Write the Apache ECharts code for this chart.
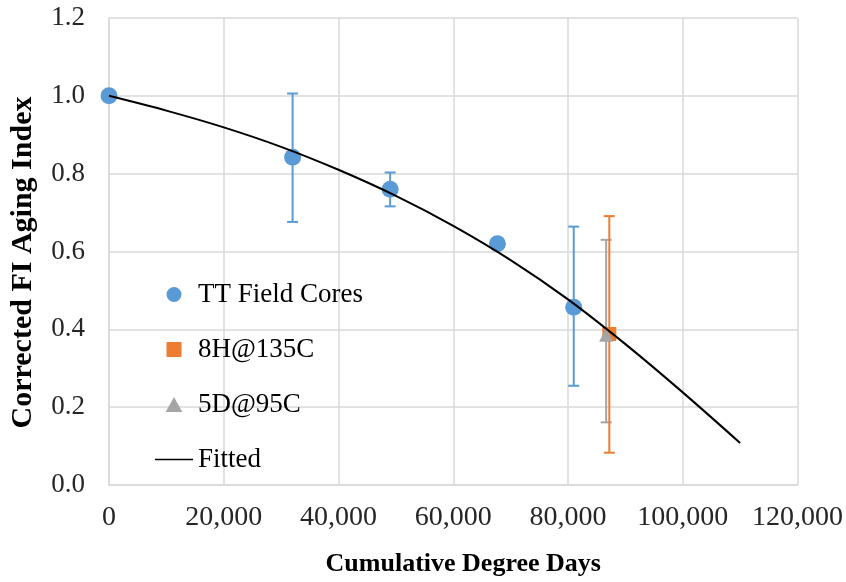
<!DOCTYPE html>
<html>
<head>
<meta charset="utf-8">
<script src="https://cdn.jsdelivr.net/npm/echarts@6/dist/echarts.min.js"></script>
<style>html,body{margin:0;padding:0;background:#fff;}#c{width:846px;height:582px;}</style>
</head>
<body>
<div id="c"></div>
<script>
// ---- data ----
var fieldX = [0, 32000, 49000, 67700, 81000];
var fieldY = [1.0, 0.842, 0.760, 0.620, 0.457];
var fieldErrLow = [null, 0.676, 0.716, null, 0.255];
var fieldErrHigh = [null, 1.006, 0.803, null, 0.664];

var h8X = [87200];
var h8Y = [0.388];
var h8ErrLow = [0.083];
var h8ErrHigh = [0.691];

var d5X = [86650];
var d5Y = [0.386];
var d5ErrLow = [0.161];
var d5ErrHigh = [0.630];

var fitX = [0, 10000, 20000, 30000, 40000, 50000, 60000, 70000, 80000, 90000, 100000, 110000];
var fitY = [1.0, 0.962, 0.919, 0.869, 0.810, 0.743, 0.666, 0.578, 0.477, 0.362, 0.238, 0.108];

var xTicks = [0, 20000, 40000, 60000, 80000, 100000, 120000];
var yTicks = [0.0, 0.2, 0.4, 0.6, 0.8, 1.0, 1.2];

var seriesNames = ['TT Field Cores', '8H@135C', '5D@95C', 'Fitted'];
var xTitle = 'Cumulative Degree Days';
var yTitle = 'Corrected FI Aging Index';

// ---- helpers ----
function pairs(xs, ys) { return xs.map(function (x, i) { return [x, ys[i]]; }); }
function errData(xs, lo, hi) {
  var out = [];
  xs.forEach(function (x, i) { if (lo[i] != null && hi[i] != null) out.push([x, lo[i], hi[i]]); });
  return out;
}
function errSeries(data, color) {
  return {
    type: 'custom',
    name: 'err',
    data: data,
    encode: { x: 0, y: [1, 2] },
    silent: true,
    renderItem: function (params, api) {
      var x = api.value(0);
      var lo = api.coord([x, api.value(1)]);
      var hi = api.coord([x, api.value(2)]);
      var hw = 5.5;
      var st = { stroke: color, lineWidth: 2 };
      return {
        type: 'group',
        children: [
          { type: 'line', shape: { x1: lo[0], y1: lo[1], x2: hi[0], y2: hi[1] }, style: st },
          { type: 'line', shape: { x1: lo[0] - hw, y1: lo[1], x2: lo[0] + hw, y2: lo[1] }, style: st },
          { type: 'line', shape: { x1: hi[0] - hw, y1: hi[1], x2: hi[0] + hw, y2: hi[1] }, style: st }
        ]
      };
    },
    z: 2
  };
}

var FONT = '"Liberation Serif", "Times New Roman", serif';
var BLUE = '#5B9BD5', ORANGE = '#ED7D31', GRAY = '#A5A5A5';

var chart = echarts.init(document.getElementById('c'), null, { renderer: 'canvas' });
chart.setOption({
  animation: false,
  backgroundColor: '#ffffff',
  grid: { left: 109, right: 47, top: 18, bottom: 88, containLabel: false },
  xAxis: {
    type: 'value', min: xTicks[0], max: xTicks[xTicks.length - 1], interval: 20000,
    name: xTitle, nameLocation: 'middle', nameGap: 66,
    nameTextStyle: { fontFamily: FONT, fontWeight: 'bold', fontSize: 26, color: '#000', padding: [0, 0, 0, 20] },
    axisLine: { show: true, lineStyle: { color: '#D9D9D9', width: 1.5 } },
    axisTick: { show: false },
    splitLine: { show: true, lineStyle: { color: '#D9D9D9', width: 1.5 } },
    axisLabel: {
      fontFamily: FONT, fontSize: 28, color: '#262626', margin: 19,
      formatter: function (v) { return v.toLocaleString('en-US'); }
    }
  },
  yAxis: {
    type: 'value', min: yTicks[0], max: yTicks[yTicks.length - 1], interval: 0.2,
    name: yTitle, nameLocation: 'middle', nameGap: 71, nameRotate: 90,
    nameTextStyle: { fontFamily: FONT, fontWeight: 'bold', fontSize: 30, color: '#000', padding: [0, 22, 0, 0] },
    axisLine: { show: true, lineStyle: { color: '#D9D9D9', width: 1.5 } },
    axisTick: { show: false },
    splitLine: { show: true, lineStyle: { color: '#D9D9D9', width: 1.5 } },
    axisLabel: {
      fontFamily: FONT, fontSize: 27, color: '#262626', margin: 24,
      formatter: function (v) { return v.toFixed(1); }
    }
  },
  legend: {
    orient: 'vertical', left: 150, top: 276,
    itemWidth: 38, itemHeight: 15, itemGap: 28,
    symbolKeepAspect: true,
    textStyle: { fontFamily: FONT, fontSize: 27, color: '#000', lineHeight: 27 },
    data: [
      { name: seriesNames[0], icon: 'path://M8,0A8,8 0 1,1 7.99,0Z' },
      { name: seriesNames[1], icon: 'path://M0,0L10,0L10,10L0,10Z' },
      { name: seriesNames[2], icon: 'path://M5,0L10,9L0,9Z' },
      { name: seriesNames[3], icon: 'path://M0,0L42,0L42,1.6L0,1.6Z' }
    ]
  },
  series: [
    errSeries(errData(fieldX, fieldErrLow, fieldErrHigh), BLUE),
    {
      type: 'scatter', name: seriesNames[0], data: pairs(fieldX, fieldY),
      symbol: 'circle', symbolSize: 17, itemStyle: { color: BLUE, opacity: 1 }, z: 3
    },
    errSeries(errData(d5X, d5ErrLow, d5ErrHigh), GRAY),
    errSeries(errData(h8X, h8ErrLow, h8ErrHigh), ORANGE),
    {
      type: 'scatter', name: seriesNames[1], data: pairs(h8X, h8Y),
      symbol: 'rect', symbolSize: 14, itemStyle: { color: ORANGE, opacity: 1 }, z: 4
    },
    {
      type: 'scatter', name: seriesNames[2], data: pairs(d5X, d5Y),
      symbol: 'triangle', symbolSize: 14, itemStyle: { color: GRAY, opacity: 1 }, z: 5
    },
    {
      type: 'line', name: seriesNames[3], data: pairs(fitX, fitY),
      smooth: 0.3, showSymbol: false, symbol: 'none',
      lineStyle: { color: '#000000', width: 2 }, itemStyle: { color: '#000000' }, z: 6
    }
  ]
});
</script>
</body>
</html>
